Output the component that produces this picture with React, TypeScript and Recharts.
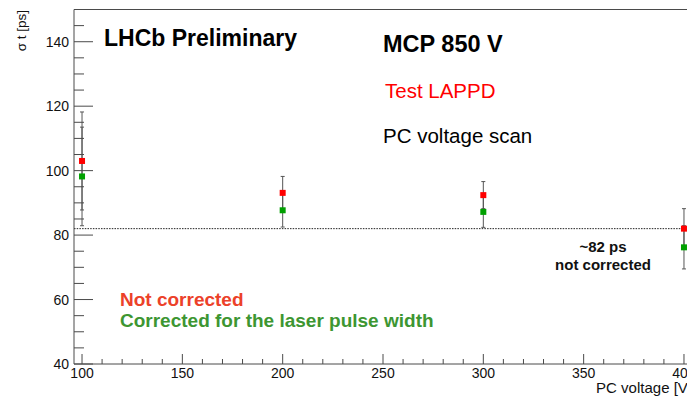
import React from 'react';
import {
  ComposedChart, Scatter, ErrorBar, XAxis, YAxis, ReferenceLine,
} from 'recharts';

// PC voltage scan, MCP at 850 V
const voltages = [100, 200, 300, 400];
const sigmaRaw = [103.0, 93.1, 92.4, 82.0];
const sigmaRawErr = [15.2, 5.1, 4.2, 6.2];
const sigmaCorr = [98.2, 87.7, 87.2, 76.2];
const sigmaCorrErr = [15.3, 5.2, 4.8, 6.7];
const referenceLevel = 82;

const xDomain = [96, 404];
const yDomain = [40, 150];
const xTicks = [100, 110, 120, 130, 140, 150, 160, 170, 180, 190, 200, 210, 220, 230, 240, 250,
  260, 270, 280, 290, 300, 310, 320, 330, 340, 350, 360, 370, 380, 390, 400];
const xMajor = [100, 150, 200, 250, 300, 350, 400];
const yTicks = [40, 45, 50, 55, 60, 65, 70, 75, 80, 85, 90, 95, 100, 105, 110, 115, 120, 125,
  130, 135, 140, 145];
const yMajor = [40, 60, 80, 100, 120, 140];

const FONT = '"Liberation Sans", Arial, Helvetica, sans-serif';
const AXIS = '#4a4a4a';
const TICK_MARGIN = 4;

const rawPoints = voltages.map((x, i) => ({ x, y: sigmaRaw[i], err: sigmaRawErr[i] }));
const corrPoints = voltages.map((x, i) => ({ x, y: sigmaCorr[i], err: sigmaCorrErr[i] }));

// ROOT-style ticks: drawn inside the frame, labels outside
function YTick(props: any) {
  const { x, y, payload } = props;
  const ax = x + TICK_MARGIN;
  const major = yMajor.includes(payload.value);
  return (
    <g>
      <line x1={ax} x2={ax + (major ? 19 : 10)} y1={y} y2={y} stroke={AXIS} strokeWidth={1} />
      {major && (
        <text x={ax - 5} y={y + 5} textAnchor="end" fontSize={14} fontFamily={FONT} fill="#111">
          {payload.value}
        </text>
      )}
    </g>
  );
}

function XTick(props: any) {
  const { x, y, payload } = props;
  const ay = y - TICK_MARGIN;
  const major = xMajor.includes(payload.value);
  return (
    <g>
      <line x1={x} x2={x} y1={ay} y2={ay - (major ? 10 : 5)} stroke={AXIS} strokeWidth={1} />
      {major && (
        <text x={x} y={ay + 14} textAnchor="middle" fontSize={14} fontFamily={FONT} fill="#111">
          {payload.value}
        </text>
      )}
    </g>
  );
}

const square = (color: string) => (props: any) => (
  <rect x={props.cx - 3} y={props.cy - 3} width={6} height={6} fill={color} />
);

export default function App() {
  return (
    <div style={{ position: 'fixed', left: 0, top: 0, width: 687, height: 396, overflow: 'hidden', background: '#fff' }}>
      <ComposedChart width={700} height={396} margin={{ top: 9.5, right: 8, bottom: 0, left: 0 }}>
        <XAxis
          dataKey="x" type="number" domain={xDomain} ticks={xTicks} interval={0}
          allowDataOverflow height={32} tickSize={0} tickMargin={TICK_MARGIN}
          tickLine={false} axisLine={{ stroke: AXIS }} tick={XTick}
        />
        <YAxis
          dataKey="y" type="number" domain={yDomain} ticks={yTicks} interval={0}
          allowDataOverflow width={74} tickSize={0} tickMargin={TICK_MARGIN}
          tickLine={false} axisLine={{ stroke: AXIS }} tick={YTick}
        />
        <ReferenceLine y={150} stroke={AXIS} />
        <ReferenceLine x={404} stroke={AXIS} />
        <Scatter data={rawPoints} dataKey="y" isAnimationActive={false} shape={square('#ff0000')}>
          <ErrorBar dataKey="err" direction="y" width={2} stroke="#555" strokeWidth={1} isAnimationActive={false} />
        </Scatter>
        <Scatter data={corrPoints} dataKey="y" isAnimationActive={false} shape={square('#00a000')}>
          <ErrorBar dataKey="err" direction="y" width={2} stroke="#555" strokeWidth={1} isAnimationActive={false} />
        </Scatter>
        <ReferenceLine y={referenceLevel} stroke="#222" strokeDasharray="1.5 1.2" />
      </ComposedChart>
      <svg width={687} height={396} style={{ position: 'absolute', left: 0, top: 0, pointerEvents: 'none' }}
        fontFamily={FONT}>
        <text x={26} y={10} transform="rotate(-90 26 10)" textAnchor="end" fontSize={13.5} fill="#111">σ t [ps]</text>
        <text x={692} y={393} textAnchor="end" fontSize={15} fill="#111">PC voltage [V]</text>
        <text x={104} y={46} fontSize={23} fontWeight="bold" fill="#000">LHCb Preliminary</text>
        <text x={383} y={52} fontSize={23.5} fontWeight="bold" fill="#000">MCP 850 V</text>
        <text x={385} y={98} fontSize={20.5} fill="#ff0000">Test LAPPD</text>
        <text x={383} y={143} fontSize={20.5} fill="#000">PC voltage scan</text>
        <text x={120} y={306} fontSize={19} fontWeight="bold" fill="#ec4129">Not corrected</text>
        <text x={120} y={327} fontSize={19} fontWeight="bold" fill="#3d9632">Corrected for the laser pulse width</text>
        <text x={603} y={252} textAnchor="middle" fontSize={15} fontWeight="bold" fill="#111">~82 ps</text>
        <text x={603} y={270} textAnchor="middle" fontSize={15} fontWeight="bold" fill="#111">not corrected</text>
      </svg>
    </div>
  );
}
